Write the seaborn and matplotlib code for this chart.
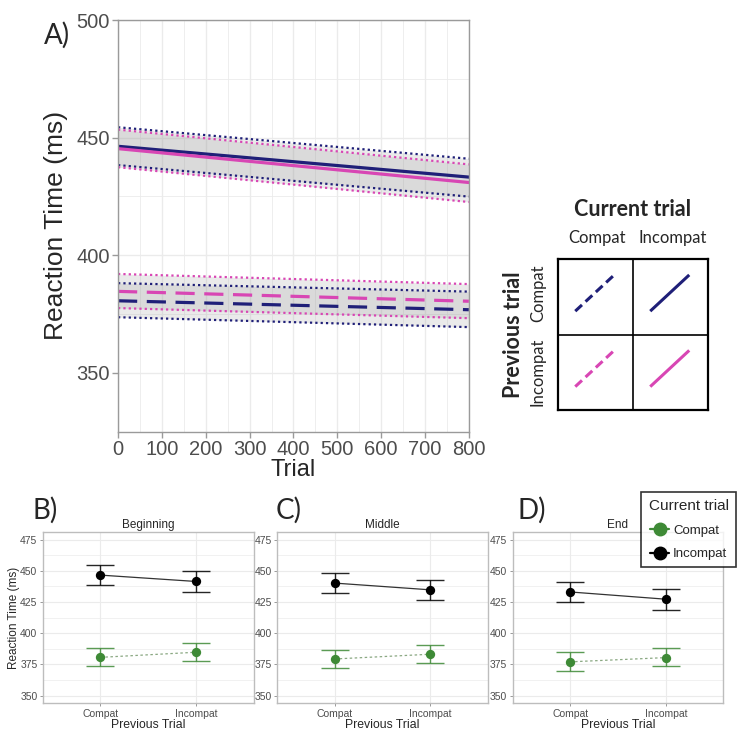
import numpy as np
import pandas as pd
import seaborn as sns
import matplotlib.pyplot as plt
from matplotlib.lines import Line2D
from matplotlib.ticker import MultipleLocator

sns.set_theme(style="white")
plt.rcParams['font.family'] = ['Liberation Sans', 'DejaVu Sans']

# Painel A: retas ajustadas (inicio e fim da sessao)
trial_ends = [0, 800]
cc_fit = [380.6, 376.8]   # anterior compat, atual compat
cc_lo = [373.6, 369.4]
cc_hi = [388.1, 384.5]
ic_fit = [384.6, 380.4]   # anterior incompat, atual compat
ic_lo = [377.5, 373.2]
ic_hi = [392.0, 387.7]
ci_fit = [446.3, 433.2]   # anterior compat, atual incompat
ci_lo = [438.3, 424.9]
ci_hi = [454.4, 441.0]
ii_fit = [445.3, 430.9]   # anterior incompat, atual incompat
ii_lo = [437.4, 422.6]
ii_hi = [453.4, 438.6]

# Paineis B-D: medias por fase
phases = ["Beginning", "Middle", "End"]
panel_tags = ["B)", "C)", "D)"]
prev_levels = ["Compat", "Incompat"]
incompat_mean = [[446.5, 441.4], [440.1, 434.7], [433.0, 427.2]]
incompat_lo = [[438.5, 433.1], [432.3, 426.6], [424.8, 418.5]]
incompat_hi = [[454.4, 449.8], [447.9, 442.7], [441.2, 435.7]]
compat_mean = [[380.6, 384.7], [379.3, 383.1], [377.0, 380.4]]
compat_lo = [[373.4, 377.4], [371.8, 375.8], [369.5, 373.3]]
compat_hi = [[387.9, 391.9], [386.6, 390.4], [384.6, 387.8]]

navy = "#1f1f78"
magenta = "#d846b4"
green = "#3e8a36"
grid_c = "#ebebeb"
border_c = "#9a9a9a"
tick_c = "#4d4d4d"
calibri = ['Lato', 'DejaVu Sans']

fig = plt.figure(figsize=(7.48, 7.36), dpi=100)

# ---------------- Painel A ----------------
axA = fig.add_axes([0.1578, 0.4137, 0.469, 0.5591])
fits = {("Compat", "Compat"): (cc_fit, cc_lo, cc_hi),
        ("Incompat", "Compat"): (ic_fit, ic_lo, ic_hi),
        ("Compat", "Incompat"): (ci_fit, ci_lo, ci_hi),
        ("Incompat", "Incompat"): (ii_fit, ii_lo, ii_hi)}
rows = []
for (prev, cur), (fit, lo, hi) in fits.items():
    for t, f, l, h in zip(trial_ends, fit, lo, hi):
        rows.append(dict(trial=t, rt=f, lo=l, hi=h, prev=prev, cur=cur))
dfA = pd.DataFrame(rows)
pal = {"Compat": navy, "Incompat": magenta}

for (prev, cur), g in dfA.groupby(["prev", "cur"]):
    axA.fill_between(g["trial"], g["lo"], g["hi"], color="#9a9a9a", alpha=0.2, lw=0)
    for col in ["lo", "hi"]:
        axA.plot(g["trial"], g[col], color=pal[prev], lw=1.6, ls=(0, (1, 1.4)))

sns.lineplot(data=dfA, x="trial", y="rt", hue="prev", style="cur", palette=pal,
             dashes={"Compat": (6, 3), "Incompat": ""}, lw=2.3, legend=False, ax=axA)

axA.set_xlim(0, 800)
axA.set_ylim(325, 500)
axA.xaxis.set_major_locator(MultipleLocator(100))
axA.xaxis.set_minor_locator(MultipleLocator(50))
axA.yaxis.set_major_locator(MultipleLocator(50))
axA.yaxis.set_minor_locator(MultipleLocator(25))
axA.grid(which="major", color=grid_c, lw=1.0)
axA.grid(which="minor", color=grid_c, lw=0.6)
axA.set_axisbelow(True)
for s in axA.spines.values():
    s.set_color(border_c)
    s.set_linewidth(1.0)
axA.tick_params(axis="both", which="major", labelsize=14.5, labelcolor=tick_c,
                color=border_c, length=4, width=1, direction="out",
                bottom=True, left=True, pad=2)
axA.tick_params(which="minor", length=0)
axA.set_xlabel("Trial", fontsize=17, labelpad=0)
axA.set_ylabel("Reaction Time (ms)", fontsize=19, labelpad=6)
fig.text(57 / 748, 1 - 35 / 736, "A)", fontsize=20, family=calibri, ha="center", va="center")

# ---------------- Legenda em grade ----------------
axL = fig.add_axes([0.746, 0.4429, 0.2005, 0.2051])
axL.set_xlim(0, 2)
axL.set_ylim(0, 2)
axL.set_xticks([])
axL.set_yticks([])
for s in axL.spines.values():
    s.set_color("black")
    s.set_linewidth(1.6)
axL.axvline(1, color="black", lw=1.2)
axL.axhline(1, color="black", lw=1.2)
key = [0.23, 0.75, 0.31, 0.79]  # posicao da reta dentro de cada celula
cells = [(0, 1, navy, (0, (3, 1.6))), (1, 1, navy, "-"),
         (0, 0, magenta, (0, (3, 1.6))), (1, 0, magenta, "-")]
for cx, cy, c, ls in cells:
    axL.plot([cx + key[0], cx + key[1]], [cy + key[2], cy + key[3]],
             color=c, lw=2.2, ls=ls, solid_capstyle="butt")
axL.text(1.0, 2.66, "Current trial", fontsize=15.5, fontweight="bold", family=calibri,
         ha="center", va="center")
axL.text(0.52, 2.28, "Compat", fontsize=12, family=calibri, ha="center", va="center")
axL.text(1.53, 2.28, "Incompat", fontsize=12, family=calibri, ha="center", va="center")
axL.text(-0.6, 1.0, "Previous trial", fontsize=15.5, fontweight="bold", family=calibri,
         rotation=90, ha="center", va="center")
axL.text(-0.27, 1.55, "Compat", fontsize=12, family=calibri, rotation=90,
         ha="center", va="center")
axL.text(-0.27, 0.5, "Incompat", fontsize=12, family=calibri, rotation=90,
         ha="center", va="center")

# ---------------- Paineis B-D ----------------
lefts = [0.0575, 0.3707, 0.6854]
tag_x = [45, 289, 532]
xpos = np.arange(len(prev_levels))
for i, phase in enumerate(phases):
    ax = fig.add_axes([lefts[i], 0.0448, 0.2815, 0.2323])
    for mean, lo, hi, c, lc, ls in [
            (compat_mean[i], compat_lo[i], compat_hi[i], green, "#8aa882", (0, (2, 2))),
            (incompat_mean[i], incompat_lo[i], incompat_hi[i], "black", "#333333", "-")]:
        m = np.array(mean)
        err = np.vstack([m - np.array(lo), np.array(hi) - m])
        sns.lineplot(x=xpos, y=m, color=lc, lw=0.9, linestyle=ls, ax=ax)
        ax.errorbar(xpos, m, yerr=err, fmt="none", ecolor=c, elinewidth=1.0,
                    capsize=10, capthick=1.0, alpha=0.85)
        sns.scatterplot(x=xpos, y=m, color=c, s=45, edgecolor=c, linewidth=0,
                        zorder=5, ax=ax)
    ax.set_xlim(-0.6, 1.6)
    ax.set_ylim(344, 481)
    ax.set_xticks(xpos)
    ax.set_xticklabels(prev_levels)
    ax.yaxis.set_major_locator(MultipleLocator(25))
    ax.yaxis.set_minor_locator(MultipleLocator(12.5))
    ax.grid(which="major", color=grid_c, lw=0.8)
    ax.grid(which="minor", axis="y", color=grid_c, lw=0.5)
    ax.set_axisbelow(True)
    for s in ax.spines.values():
        s.set_color("#bdbdbd")
        s.set_linewidth(1.0)
    ax.tick_params(axis="both", which="major", labelsize=7.5, labelcolor=tick_c,
                   color="#999999", length=2.5, width=0.7, bottom=True, left=True, pad=1.5)
    ax.tick_params(which="minor", length=0)
    ax.set_title(phase, fontsize=8.5, pad=3)
    ax.set_xlabel("Previous Trial", fontsize=8.8, labelpad=0)
    if i == 0:
        ax.set_ylabel("Reaction Time (ms)", fontsize=8.5, labelpad=0)
    else:
        ax.set_ylabel("")
    fig.text(tag_x[i] / 748, 1 - 510 / 736, panel_tags[i], fontsize=20, family=calibri,
             ha="center", va="center")

handles = [Line2D([], [], color=green, marker="o", markersize=9, lw=1.6, label="Compat"),
           Line2D([], [], color="black", marker="o", markersize=9, lw=1.6, label="Incompat")]
leg = fig.legend(handles=handles, title="Current trial", loc="upper right",
                 bbox_to_anchor=(736 / 748, 1 - 492 / 736), fontsize=9.5,
                 title_fontsize=11, frameon=True, fancybox=False, handlelength=1.45,
                 handletextpad=0.3, borderpad=0.55, labelspacing=0.85,
                 borderaxespad=0)
leg.get_frame().set_edgecolor("black")
leg.get_frame().set_linewidth(1.2)

fig.savefig("out.png", dpi=100)
